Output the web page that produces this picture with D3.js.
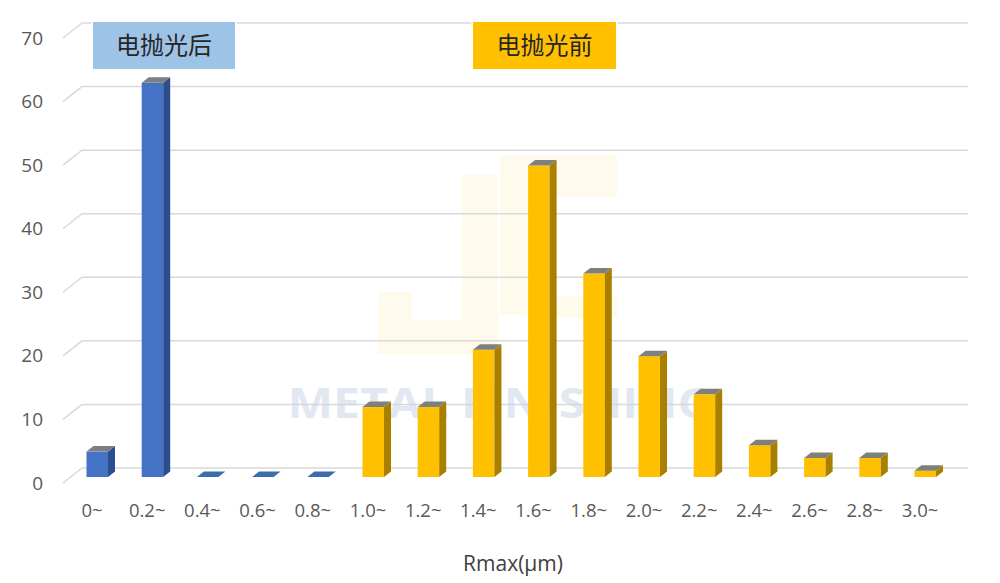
<!DOCTYPE html>
<html><head><meta charset="utf-8">
<script src="https://cdn.jsdelivr.net/npm/d3@7/dist/d3.min.js"></script>
<style>html,body{margin:0;padding:0;background:#fff;}svg{display:block;}</style>
</head><body>
<svg id="chart" width="1000" height="583"></svg>
<script>
const categories = ["0~","0.2~","0.4~","0.6~","0.8~","1.0~","1.2~","1.4~","1.6~","1.8~","2.0~","2.2~","2.4~","2.6~","2.8~","3.0~"];
const afterValues  = [4, 62, 0, 0, 0, null, null, null, null, null, null, null, null, null, null, null];
const beforeValues = [null, null, null, null, null, 11, 11, 20, 49, 32, 19, 13, 5, 3, 3, 1];
const yTicks = [0, 10, 20, 30, 40, 50, 60, 70];
const seriesNames = ["电抛光后", "电抛光前"];
const axisTitle = "Rmax(μm)";
const watermark = "METAL FINISHING";

const svg = d3.select("#chart");
const x = d3.scalePoint().domain(categories).range([92, 920]);
const y = d3.scaleLinear().domain([0, 70]).range([477, 32]);
const backDy = -9, wallX0 = 82, wallX1 = 968, frontX = 63;

// logo watermark (faint)
const logo = svg.append("g").attr("fill", "#fff6d0").attr("opacity", 0.4);
[[378,292,34,62],[378,320,120,34],[462,175,36,180],[500,155,117,42],[500,155,30,160],[527,296,90,22]].forEach(r=>{
  logo.append("rect").attr("x",r[0]).attr("y",r[1]).attr("width",r[2]).attr("height",r[3]);
});

// gridlines
const grid = svg.append("g");
yTicks.forEach(t => {
  const yb = y(t) + backDy;
  grid.append("path")
    .attr("d", `M${frontX},${y(t)+6}L${wallX0},${yb}L${wallX1},${yb}`)
    .attr("fill", "none").attr("stroke", "#d9d9d9").attr("stroke-width", 1.5);
});

// y axis labels
svg.append("g").selectAll("text").data(yTicks).join("text")
  .attr("x", 43).attr("y", d => y(d) + 12.5)
  .attr("text-anchor", "end")
  .attr("font-family", "Open Sans, sans-serif").attr("font-size", 19).attr("fill", "#595959")
  .text(d => d);

// x axis labels
svg.append("g").selectAll("text").data(categories).join("text")
  .attr("x", d => x(d)).attr("y", 517)
  .attr("text-anchor", "middle")
  .attr("font-family", "Open Sans, sans-serif").attr("font-size", 18.5).attr("fill", "#595959")
  .text(d => d);

// watermark text
svg.append("text").attr("x", 500).attr("y", 418).attr("text-anchor", "middle")
  .attr("font-family", "Open Sans, sans-serif").attr("font-weight", 700).attr("font-size", 42)
  .attr("textLength", 425).attr("lengthAdjust", "spacingAndGlyphs")
  .attr("fill", "#c9d7e8").attr("opacity", 0.55).text(watermark);

// 3D bars
const bw = 21.5, dx = 7, dy = -5.5;
function drawSeries(values, front, side, top, zeroCol) {
  const g = svg.append("g");
  categories.forEach((c, i) => {
    const v = values[i];
    if (v === null || v === undefined) return;
    const x0 = x(c) - 5.5, x1 = x0 + bw, yv = y(v), y0 = y(0);
    if (v === 0) {
      g.append("path").attr("d", `M${x0},${y0}L${x0+dx},${y0+dy}L${x1+dx},${y0+dy}L${x1},${y0}Z`).attr("fill", zeroCol);
      return;
    }
    g.append("rect").attr("x", x0).attr("y", yv).attr("width", bw).attr("height", y0 - yv).attr("fill", front);
    g.append("path").attr("d", `M${x1},${yv}L${x1+dx},${yv+dy}L${x1+dx},${y0+dy}L${x1},${y0}Z`).attr("fill", side);
    g.append("path").attr("d", `M${x0},${yv}L${x0+dx},${yv+dy}L${x1+dx},${yv+dy}L${x1},${yv}Z`).attr("fill", top);
  });
}
drawSeries(afterValues, "#4472c4", "#2c4e8c", "#7a7e85", "#3a6eab");
drawSeries(beforeValues, "#ffc000", "#a97f00", "#80807a", "#a97f00");

// legend boxes
const legends = [
  {name: seriesNames[0], x: 93, w: 142, fill: "#9dc3e6"},
  {name: seriesNames[1], x: 473, w: 143, fill: "#ffc000"}
];
legends.forEach(l => {
  svg.append("rect").attr("x", l.x).attr("y", 22).attr("width", l.w).attr("height", 47)
    .attr("fill", l.fill).attr("stroke", "#fff").attr("stroke-width", 3).attr("paint-order", "stroke");
  svg.append("text").attr("x", l.x + l.w / 2).attr("y", 54).attr("text-anchor", "middle")
    .attr("font-family", "Noto Sans CJK SC, sans-serif").attr("font-size", 24).attr("fill", "#262626")
    .text(l.name);
});

// axis title
svg.append("text").attr("x", 513).attr("y", 571).attr("text-anchor", "middle")
  .attr("font-family", "Open Sans, sans-serif").attr("font-size", 21).attr("fill", "#404040")
  .text(axisTitle);
</script>
</body></html>
